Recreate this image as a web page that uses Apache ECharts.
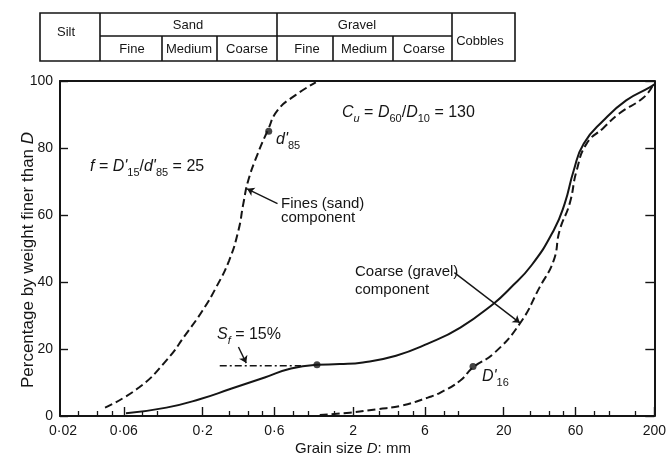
<!DOCTYPE html>
<html>
<head>
<meta charset="utf-8">
<title>Grading curves</title>
<script src="https://cdn.jsdelivr.net/npm/echarts@6.0.0/dist/echarts.min.js"></script>
<style>
    html, body { margin: 0; padding: 0; background: #fff; }
    #main { width: 669px; height: 457px; }
</style>
</head>
<body>
<div id="main"></div>
<script>
    // grain size D (mm) and percentage finer
    let fineSize = [0.045, 0.0756, 0.115, 0.156, 0.2, 0.246, 0.30, 0.346, 0.373, 0.402, 0.466, 0.541, 0.629, 0.824, 1.13];
    let finePct = [2.5, 8.5, 16.6, 24.6, 31.5, 38.4, 46.4, 55.4, 63.4, 70.3, 78.4, 85.2, 91.2, 95.7, 99.6];

    let soilSize = [0.062, 0.115, 0.191, 0.312, 0.517, 0.773, 1.15, 1.63, 2.32, 3.85, 6.27, 10.3, 17.2, 21.9, 30.6, 42.9, 50.8, 58.3, 67.9, 91.8, 130, 185, 200];
    let soilPct = [0.8, 2.5, 5, 8.2, 11.5, 14.2, 15.3, 15.5, 16, 18, 21.6, 26.4, 33.6, 38, 45, 55.4, 63.4, 73.3, 81.3, 88.2, 94.2, 98, 99];

    let coarseSize = [1.2, 1.9, 2.85, 4.2, 6.27, 7.6, 10.3, 12.5, 17.2, 25.6, 34.6, 42.9, 47, 54.8, 61, 71, 91.8, 117, 169, 194];
    let coarsePct = [0.3, 1, 2, 3.1, 5.5, 7, 10.6, 14.5, 18.7, 27.6, 38.4, 46.4, 55.4, 63.4, 73.3, 81.3, 86, 90.3, 95, 98.4];

    let sfSize = [0.26, 0.9];
    let sfPct = [15, 15];

    let pointSize = [0.55, 1.15, 12.5];
    let pointPct = [85, 15.3, 14.8];

    let majorTicks = [0.06, 0.2, 0.6, 2, 6, 20, 60, 200];
    let minorTicks = [0.03, 0.04, 0.05, 0.08, 0.1, 0.3, 0.4, 0.5, 0.8, 1, 1.5, 3, 4, 5, 8, 10, 30, 40, 50, 80, 100, 150];
    let firstTickLabel = '0\u00b702';

    let siltLabel = 'Silt';
    let sandLabel = 'Sand';
    let gravelLabel = 'Gravel';
    let cobblesLabel = 'Cobbles';
    let subLabels = ['Fine', 'Medium', 'Coarse'];

    let font = "'Liberation Sans', Arial, sans-serif";
    let ink = '#151515';
    // the printed scale starts a touch above 0.02 at the left frame
    let xMin = 0.0226, xMax = 200;

    function pairs(xs, ys) {
        return xs.map(function (x, i) { return [x, ys[i]]; });
    }

    function tickLabel(v) {
        let s = String(+(+v).toPrecision(3));
        return s.replace('.', '\u00b7');
    }

    // rich text styles used by the formula labels
    let richStyle = {
        n: {fontSize: 16, fontFamily: font, lineHeight: 23, fill: ink},
        i: {fontSize: 16, fontFamily: font, fontStyle: 'italic', lineHeight: 23, fill: ink},
        s: {fontSize: 11, fontFamily: font, fontStyle: 'italic', lineHeight: 13, verticalAlign: 'bottom', fill: ink},
        sn: {fontSize: 11, fontFamily: font, lineHeight: 13, verticalAlign: 'bottom', fill: ink}
    };

    function text(x, y, str, size, align) {
        return {
            type: 'text', x: x, y: y, silent: true,
            style: {
                text: str, fill: ink, font: size + 'px ' + font,
                align: align || 'left', verticalAlign: 'middle',
                textAlign: align || 'left', textVerticalAlign: 'middle'
            }
        };
    }

    function richText(x, y, str) {
        return {
            type: 'text', x: x, y: y, silent: true,
            style: {
                text: str, rich: richStyle, fill: ink, font: '16px ' + font,
                align: 'left', verticalAlign: 'middle',
                textAlign: 'left', textVerticalAlign: 'middle'
            }
        };
    }

    function line(x1, y1, x2, y2) {
        return {
            type: 'line', silent: true,
            shape: {x1: x1, y1: y1, x2: x2, y2: y2},
            style: {stroke: ink, lineWidth: 1.6}
        };
    }

    // classification table above the plot
    let table = [
        {type: 'rect', silent: true, shape: {x: 40, y: 13, width: 475, height: 48}, style: {fill: 'none', stroke: ink, lineWidth: 1.6}},
        line(100, 13, 100, 61),
        line(277, 13, 277, 61),
        line(452, 13, 452, 61),
        line(100, 36, 452, 36),
        line(162, 36, 162, 61),
        line(217, 36, 217, 61),
        line(333, 36, 333, 61),
        line(393, 36, 393, 61),
        text(66, 32, siltLabel, 13, 'center'),
        text(188, 25, sandLabel, 13, 'center'),
        text(357, 25, gravelLabel, 13, 'center'),
        text(480, 41, cobblesLabel, 13, 'center'),
        text(132, 49, subLabels[0], 13, 'center'),
        text(189, 49, subLabels[1], 13, 'center'),
        text(247, 49, subLabels[2], 13, 'center'),
        text(307, 49, subLabels[0], 13, 'center'),
        text(364, 49, subLabels[1], 13, 'center'),
        text(424, 49, subLabels[2], 13, 'center')
    ];

    let notes = [
        richText(342, 113, '{i|C}{s|u}{n| = }{i|D}{sn|60}{n|/}{i|D}{sn|10}{n| = 130}'),
        richText(90, 167, "{i|f}{n| = }{i|D'}{sn|15}{n|/}{i|d'}{sn|85}{n| = 25}"),
        richText(276, 140, "{i|d'}{sn|85}"),
        richText(482, 377, "{i|D'}{sn|16}"),
        richText(217, 335, '{i|S}{s|f}{n| = 15%}'),
        text(281, 204, 'Fines (sand)', 15),
        text(281, 218, 'component', 15),
        text(355, 272, 'Coarse (gravel)', 15),
        text(355, 290, 'component', 15),
        text(63, 431, firstTickLabel, 14, 'center'),
        {
            type: 'text', x: 28, y: 260, rotation: Math.PI / 2, silent: true,
            style: {
                text: '{n|Percentage by weight finer than }{i|D}',
                rich: {
                    n: {fontSize: 17, fontFamily: font, fill: ink},
                    i: {fontSize: 17, fontFamily: font, fontStyle: 'italic', fill: ink}
                },
                align: 'center', verticalAlign: 'middle',
                textAlign: 'center', textVerticalAlign: 'middle'
            }
        },
        {
            type: 'text', x: 353, y: 449, silent: true,
            style: {
                text: '{n|Grain size }{i|D}{n|: mm}',
                rich: {
                    n: {fontSize: 15, fontFamily: font, fill: ink},
                    i: {fontSize: 15, fontFamily: font, fontStyle: 'italic', fill: ink}
                },
                align: 'center', verticalAlign: 'middle',
                textAlign: 'center', textVerticalAlign: 'middle'
            }
        }
    ];

    let chart = echarts.init(document.getElementById('main'));
    chart.setOption({
        animation: false,
        backgroundColor: '#fff',
        textStyle: {fontFamily: font},
        grid: {left: 60, right: 11, top: 81, bottom: 41},
        xAxis: [
            {
                type: 'log', min: xMin, max: xMax, position: 'bottom',
                axisLine: {lineStyle: {color: ink, width: 2}},
                axisTick: {inside: true, length: 9, customValues: majorTicks, lineStyle: {color: ink, width: 1.4}},
                axisLabel: {customValues: majorTicks, formatter: tickLabel, color: ink, fontSize: 14, margin: 8},
                splitLine: {show: false}
            },
            {
                type: 'log', min: xMin, max: xMax, position: 'bottom',
                axisLine: {show: false},
                axisTick: {inside: true, length: 5, customValues: minorTicks, lineStyle: {color: ink, width: 1.3}},
                axisLabel: {show: false},
                splitLine: {show: false}
            },
            {
                type: 'log', min: xMin, max: xMax, position: 'top',
                axisLine: {lineStyle: {color: ink, width: 2}},
                axisTick: {show: false},
                axisLabel: {show: false},
                splitLine: {show: false}
            }
        ],
        yAxis: [
            {
                type: 'value', min: 0, max: 100, interval: 20,
                axisLine: {show: true, lineStyle: {color: ink, width: 2}},
                axisTick: {show: true, inside: true, length: 8, lineStyle: {color: ink, width: 1.4}},
                axisLabel: {color: ink, fontSize: 14, margin: 7},
                splitLine: {show: false}
            },
            {
                type: 'value', min: 0, max: 100, interval: 20, position: 'right',
                axisLine: {show: true, lineStyle: {color: ink, width: 2}},
                axisTick: {show: true, inside: true, length: 9, lineStyle: {color: ink, width: 1.4}},
                axisLabel: {show: false},
                splitLine: {show: false}
            }
        ],
        series: [
            {
                name: 'Fines (sand) component', type: 'line', smooth: 0.5, showSymbol: false,
                lineStyle: {color: ink, width: 2, type: [8, 4]},
                data: pairs(fineSize, finePct)
            },
            {
                name: 'Whole soil', type: 'line', smooth: 0.5, showSymbol: false,
                lineStyle: {color: ink, width: 2},
                data: pairs(soilSize, soilPct)
            },
            {
                name: 'Coarse (gravel) component', type: 'line', smooth: 0.5, showSymbol: false,
                lineStyle: {color: ink, width: 2, type: [8, 4]},
                data: pairs(coarseSize, coarsePct)
            },
            {
                name: 'Sf', type: 'line', showSymbol: false,
                lineStyle: {color: ink, width: 1.5, type: [7, 3, 2, 3]},
                data: pairs(sfSize, sfPct)
            },
            {
                name: 'points', type: 'scatter', symbolSize: 7,
                itemStyle: {color: ink},
                data: pairs(pointSize, pointPct)
            },
            {
                name: 'arrows', type: 'lines', coordinateSystem: 'cartesian2d',
                symbol: ['none', 'arrow'], symbolSize: 7,
                lineStyle: {color: ink, width: 1.4, opacity: 1},
                data: [
                    {coords: [[0.629, 63.4], [0.395, 67.8]]},
                    {coords: [[0.346, 20.6], [0.39, 15.8]]},
                    {coords: [[9.4, 42.8], [25.6, 27.8]]}
                ]
            }
        ],
        graphic: table.concat(notes)
    });
</script>
</body>
</html>
